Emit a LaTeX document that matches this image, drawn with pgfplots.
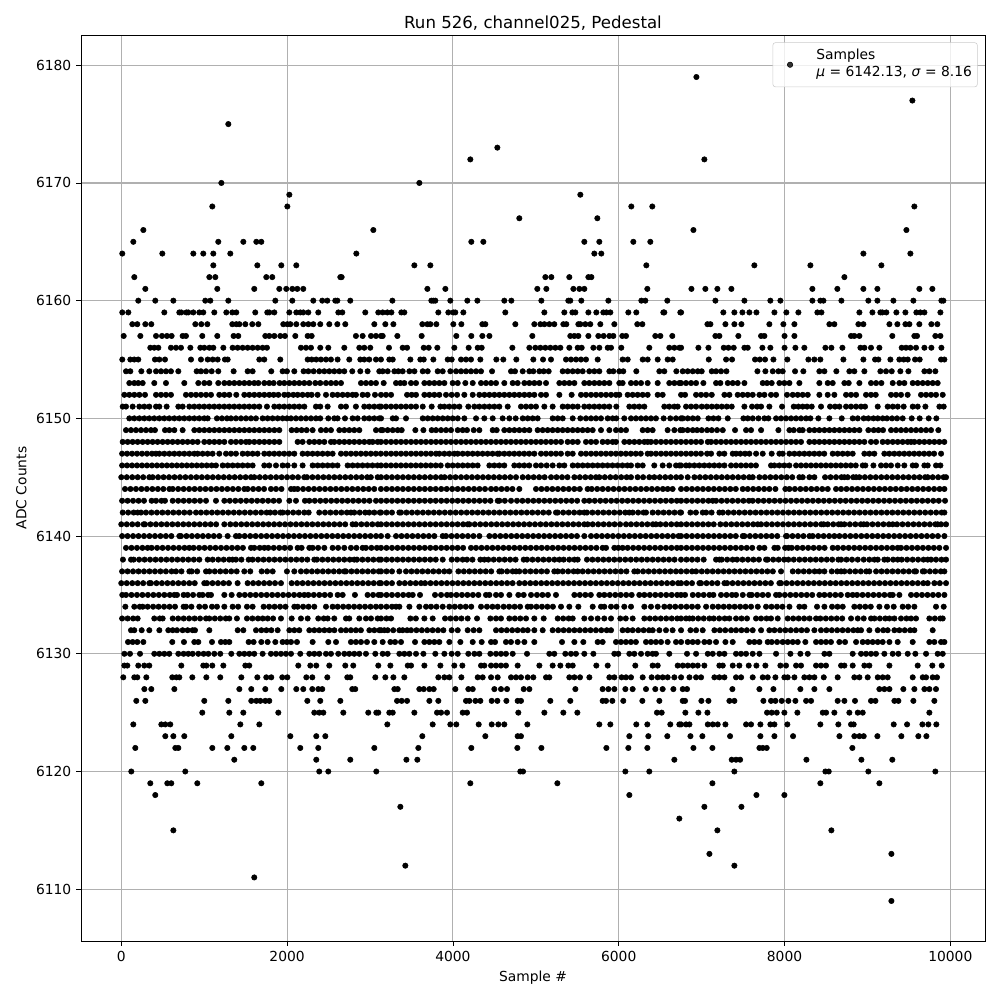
\documentclass[border=0pt]{standalone}
\usepackage{fontspec}
\setmainfont{DejaVu Sans}
\usepackage{pgfplots}
\pgfplotsset{compat=1.18}
\definecolor{gridc}{HTML}{B0B0B0}
\begin{document}
\begin{tikzpicture}
\path[use as bounding box] (-0.81in,-0.59in) rectangle (9.19in,9.41in);
\begin{axis}[
 at={(0,0)},anchor=south west,scale only axis,width=9.04in,height=9.06in,
 xmin=-486,xmax=10418,ymin=6105.6,ymax=6182.57,
 xtick={0,2000,4000,6000,8000,10000},ytick={6110,6120,6130,6140,6150,6160,6170,6180},
 /pgf/number format/assume math mode=true,
 /pgf/number format/1000 sep={},
 scaled ticks=false,
 tick align=outside,major tick length=3.5pt,tick style={black,line width=0.6pt},
 xtick pos=bottom,ytick pos=left,
 axis line style={line width=0.5pt},
 grid=major,grid style={gridc,line width=0.8pt},
 tick label style={font=\fontsize{10}{12}\selectfont},
 label style={font=\fontsize{10}{12}\selectfont},
 title style={font=\fontsize{12}{14}\selectfont,yshift=-6pt},
 title={Run 526, channel025, Pedestal},
 xlabel={Sample \#},ylabel={ADC Counts},
 legend style={at={(0.9919,0.9919)},anchor=north east,draw=black!20,rounded corners=2pt,fill=white,fill opacity=0.8,text opacity=1,font=\fontsize{10}{12}\selectfont,inner sep=2pt,nodes={text depth=}},
 legend cell align=left,
 legend image code/.code={\path[draw=none] (0,0) -- (0.38in,0); \draw[#1,mark=*] plot coordinates {(0.145in,0in)};},
]
\addplot[only marks,mark=*,black,mark size=1.95pt] table[row sep=\\,header=false,x index=0,y index=1]{
1291 6175\\1207 6170\\2027 6169\\1098 6168\\2003 6168\\266 6166\\3040 6166\\145 6165\\1170 6165\\1472 6165\\1629 6165\\1689 6165\\12 6164\\495 6164\\869 6164\\989 6164\\1110 6164\\1315 6164\\2835 6164\\1110 6163\\1641 6163\\1930 6163\\2111 6163\\157 6162\\1062 6162\\1134 6162\\1749 6162\\1821 6162\\2642 6162\\2658 6162\\
290 6161\\1158 6161\\1604 6161\\1906 6161\\1990 6161\\2063 6161\\2123 6161\\2195 6161\\205 6160\\410 6160\\628 6160\\1013 6160\\1074 6160\\1291 6160\\1858 6160\\2063 6160\\2316 6160\\2424 6160\\2485 6160\\2581 6160\\2606 6160\\2762 6160\\
12 6159\\85 6159\\519 6159\\700 6159\\724 6159\\785 6159\\808 6159\\869 6159\\941 6159\\989 6159\\1122 6159\\1267 6159\\1339 6159\\1387 6159\\1616 6159\\1761 6159\\1785 6159\\1846 6159\\2027 6159\\2111 6159\\2159 6159\\2195 6159\\2256 6159\\2376 6159\\2618 6159\\2666 6159\\2943 6159\\3100 6159\\
133 6158\\193 6158\\290 6158\\362 6158\\893 6158\\965 6158\\1038 6158\\1339 6158\\1387 6158\\1424 6158\\1496 6158\\1580 6158\\1653 6158\\1954 6158\\2003 6158\\2039 6158\\2111 6158\\2195 6158\\2256 6158\\2316 6158\\2400 6158\\2509 6158\\2606 6158\\2702 6158\\3052 6158\\
4210 6172\\4536 6173\\3595 6170\\5537 6169\\6152 6168\\6405 6168\\4801 6167\\5742 6167\\4222 6165\\4367 6165\\5585 6165\\5766 6165\\6176 6165\\6381 6165\\5706 6164\\5790 6164\\3535 6163\\3728 6163\\6333 6163\\5115 6162\\5187 6162\\5404 6162\\5634 6162\\5670 6162\\
3692 6161\\3909 6161\\5018 6161\\5127 6161\\5453 6161\\5525 6161\\5585 6161\\6345 6161\\3270 6160\\3740 6160\\3764 6160\\3788 6160\\3969 6160\\4174 6160\\4295 6160\\4620 6160\\4705 6160\\5067 6160\\5392 6160\\5416 6160\\5549 6160\\5875 6160\\6273 6160\\6321 6160\\6586 6160\\
3153 6159\\3209 6159\\3258 6159\\3378 6159\\3414 6159\\3824 6159\\3945 6159\\4005 6159\\4029 6159\\4126 6159\\4632 6159\\5103 6159\\5344 6159\\5441 6159\\5477 6159\\5634 6159\\5730 6159\\5814 6159\\5851 6159\\5899 6159\\6116 6159\\6212 6159\\6538 6159\\6550 6159\\6743 6159\\
3185 6158\\3282 6158\\3631 6158\\3692 6158\\3728 6158\\3800 6158\\4005 6158\\4102 6158\\4355 6158\\4391 6158\\4753 6158\\4982 6158\\5055 6158\\5103 6158\\5163 6158\\5223 6158\\5332 6158\\5368 6158\\5513 6158\\5537 6158\\5597 6158\\5657 6158\\5778 6158\\5947 6158\\6224 6158\\6285 6158\\
6937 6179\\9542 6177\\7033 6172\\9566 6168\\6901 6166\\9470 6166\\8951 6164\\9518 6164\\7636 6163\\8312 6163\\9168 6163\\8722 6162\\6877 6161\\7045 6161\\7190 6161\\7359 6161\\8336 6161\\8637 6161\\8951 6161\\9120 6161\\9626 6161\\9783 6161\\
7166 6160\\7516 6160\\7829 6160\\7950 6160\\8336 6160\\8432 6160\\8469 6160\\8686 6160\\9011 6160\\9120 6160\\9313 6160\\9554 6160\\9892 6160\\9916 6160\\6752 6159\\7262 6159\\7395 6159\\7492 6159\\7576 6159\\7661 6159\\7878 6159\\8022 6159\\8167 6159\\8396 6159\\8445 6159\\8903 6159\\9060 6159\\9156 6159\\9180 6159\\9228 6159\\9349 6159\\9458 6159\\9590 6159\\9638 6159\\9687 6159\\9880 6159\\
7070 6158\\7106 6158\\7287 6158\\7395 6158\\7480 6158\\7817 6158\\7986 6158\\8119 6158\\8541 6158\\8601 6158\\8891 6158\\8951 6158\\9265 6158\\9361 6158\\9458 6158\\9506 6158\\9626 6158\\9771 6158\\9843 6158\\
1604 6111\\628 6115\\410 6118\\350 6119\\555 6119\\603 6119\\917 6119\\1689 6119\\121 6120\\772 6120\\2388 6120\\2497 6120\\3076 6120\\1363 6121\\2352 6121\\2762 6121\\169 6122\\652 6122\\688 6122\\1098 6122\\1279 6122\\1484 6122\\1592 6122\\2159 6122\\2376 6122\\3052 6122\\531 6123\\628 6123\\760 6123\\1327 6123\\2039 6123\\2352 6123\\2461 6123\\145 6124\\483 6124\\531 6124\\591 6124\\1436 6124\\1665 6124\\
977 6125\\1303 6125\\1472 6125\\1894 6125\\2328 6125\\2388 6125\\2437 6125\\2678 6125\\2979 6125\\3076 6125\\3100 6125\\181 6126\\290 6126\\1001 6126\\1291 6126\\1568 6126\\1629 6126\\1677 6126\\1737 6126\\1785 6126\\2244 6126\\2400 6126\\2642 6126\\278 6127\\362 6127\\640 6127\\1424 6127\\1568 6127\\1737 6127\\1930 6127\\2111 6127\\2195 6127\\2304 6127\\2376 6127\\2424 6127\\2786 6127\\2822 6127\\
24 6128\\157 6128\\193 6128\\302 6128\\615 6128\\664 6128\\700 6128\\857 6128\\1026 6128\\1194 6128\\1448 6128\\1641 6128\\1749 6128\\1809 6128\\1942 6128\\2003 6128\\2232 6128\\2304 6128\\2485 6128\\2726 6128\\2762 6128\\3064 6128\\
37 6129\\73 6129\\205 6129\\278 6129\\338 6129\\724 6129\\989 6129\\1026 6129\\1098 6129\\1231 6129\\1496 6129\\1544 6129\\2135 6129\\2280 6129\\2352 6129\\2509 6129\\2702 6129\\2798 6129\\3100 6129\\
37 6130\\105 6130\\226 6130\\398 6130\\459 6130\\519 6130\\579 6130\\688 6130\\752 6130\\808 6130\\861 6130\\929 6130\\993 6130\\1050 6130\\1122 6130\\1194 6130\\1327 6130\\1424 6130\\1484 6130\\1544 6130\\1604 6130\\1705 6130\\1805 6130\\1866 6130\\1926 6130\\1986 6130\\2047 6130\\2159 6130\\2268 6130\\2328 6130\\2388 6130\\2469 6130\\2529 6130\\2617 6130\\2690 6130\\2750 6130\\2810 6130\\2871 6130\\2951 6130\\3064 6130\\
81 6131\\137 6131\\193 6131\\266 6131\\615 6131\\756 6131\\881 6131\\929 6131\\1094 6131\\1202 6131\\1255 6131\\1303 6131\\1536 6131\\1596 6131\\1689 6131\\1765 6131\\1858 6131\\1946 6131\\1998 6131\\2047 6131\\2119 6131\\2308 6131\\2497 6131\\2590 6131\\2770 6131\\2830 6131\\2891 6131\\2963 6131\\3052 6131\\
117 6132\\157 6132\\246 6132\\338 6132\\459 6132\\567 6132\\620 6132\\672 6132\\740 6132\\800 6132\\860 6132\\889 6132\\1062 6132\\1404 6132\\1472 6132\\1625 6132\\1690 6132\\1750 6132\\1810 6132\\1886 6132\\2027 6132\\2087 6132\\2147 6132\\2268 6132\\2328 6132\\2388 6132\\2450 6132\\2510 6132\\2570 6132\\2650 6132\\2710 6132\\2770 6132\\2830 6132\\2890 6132\\2992 6132\\3052 6132\\3112 6132\\
3133 6132\\3173 6132\\3213 6132\\3280 6132\\3354 6132\\3394 6132\\3447 6132\\3495 6132\\3560 6132\\3625 6132\\3690 6132\\3755 6132\\3820 6132\\3885 6132\\3985 6132\\4058 6132\\4178 6132\\4250 6132\\4319 6132\\4520 6132\\4585 6132\\4650 6132\\4715 6132\\4780 6132\\4845 6132\\4902 6132\\4982 6132\\5083 6132\\5203 6132\\5270 6132\\5335 6132\\5400 6132\\5465 6132\\5530 6132\\5595 6132\\5660 6132\\5725 6132\\5790 6132\\5855 6132\\5907 6132\\6047 6132\\6108 6132\\6168 6132\\6235 6132\\6300 6132\\6365 6132\\6410 6132\\6490 6132\\6570 6132\\6650 6132\\
6752 6132\\6865 6132\\6933 6132\\7013 6132\\7154 6132\\7220 6132\\7285 6132\\7355 6132\\7415 6132\\7480 6132\\7545 6132\\7616 6132\\7717 6132\\7817 6132\\7878 6132\\7945 6132\\8010 6132\\8075 6132\\8140 6132\\8205 6132\\8270 6132\\8360 6132\\8440 6132\\8505 6132\\8570 6132\\8635 6132\\8700 6132\\8765 6132\\8830 6132\\8883 6132\\8923 6132\\9023 6132\\9124 6132\\9190 6132\\9244 6132\\9325 6132\\9385 6132\\9450 6132\\9515 6132\\9566 6132\\9787 6132\\
3153 6131\\3246 6131\\3302 6131\\3374 6131\\3543 6131\\3656 6131\\3716 6131\\3776 6131\\3836 6131\\3957 6131\\4090 6131\\4239 6131\\4347 6131\\4460 6131\\4508 6131\\4640 6131\\4700 6131\\4781 6131\\4862 6131\\4982 6131\\5316 6131\\5465 6131\\5573 6131\\5746 6131\\5806 6131\\5967 6131\\6027 6131\\6087 6131\\6147 6131\\6207 6131\\6329 6131\\6389 6131\\6449 6131\\6510 6131\\6590 6131\\6691 6131\\
6752 6131\\6832 6131\\6892 6131\\6953 6131\\7033 6131\\7094 6131\\7174 6131\\7287 6131\\7375 6131\\7576 6131\\7636 6131\\7697 6131\\7797 6131\\7845 6131\\7910 6131\\7978 6131\\8038 6131\\8099 6131\\8159 6131\\8251 6131\\8380 6131\\8440 6131\\8500 6131\\8560 6131\\8661 6131\\8730 6131\\8863 6131\\8943 6131\\9003 6131\\9063 6131\\9124 6131\\9184 6131\\9265 6131\\9365 6131\\9546 6131\\9747 6131\\9807 6131\\9888 6131\\9928 6131\\
3153 6130\\3213 6130\\3354 6130\\3414 6130\\3475 6130\\3555 6130\\3644 6130\\3788 6130\\3897 6130\\3985 6130\\4058 6130\\4186 6130\\4259 6130\\4319 6130\\4452 6130\\4520 6130\\4580 6130\\4640 6130\\4721 6130\\4894 6130\\5163 6130\\5223 6130\\5356 6130\\5424 6130\\5484 6130\\5585 6130\\5694 6130\\5947 6130\\5995 6130\\6128 6130\\6188 6130\\6269 6130\\6349 6130\\6409 6130\\6449 6130\\6610 6130\\
6824 6130\\6933 6130\\7074 6130\\7134 6130\\7214 6130\\7275 6130\\7415 6130\\7475 6130\\7536 6130\\7616 6130\\7697 6130\\7898 6130\\8071 6130\\8191 6130\\8280 6130\\8481 6130\\8541 6130\\8822 6130\\8923 6130\\8983 6130\\9043 6130\\9103 6130\\9204 6130\\9305 6130\\9373 6130\\9486 6130\\9578 6130\\9707 6130\\9847 6130\\9908 6130\\
3246 6129\\3455 6129\\3495 6129\\3656 6129\\3849 6129\\4017 6129\\4114 6129\\4339 6129\\4379 6129\\4460 6129\\4520 6129\\4580 6129\\4640 6129\\4781 6129\\5043 6129\\5203 6129\\5296 6129\\5392 6129\\5445 6129\\5730 6129\\5867 6129\\6200 6129\\6409 6129\\6470 6129\\6711 6129\\
6772 6129\\6832 6129\\6893 6129\\6953 6129\\7033 6129\\7214 6129\\7255 6129\\7375 6129\\7455 6129\\7568 6129\\7661 6129\\7769 6129\\7950 6129\\8018 6129\\8139 6129\\8199 6129\\8380 6129\\8440 6129\\8500 6129\\8682 6129\\8722 6129\\8822 6129\\8963 6129\\9023 6129\\9265 6129\\9606 6129\\9783 6129\\9896 6129\\
3185 6128\\3282 6128\\3414 6128\\3824 6128\\3897 6128\\3957 6128\\4102 6128\\4299 6128\\4359 6128\\4460 6128\\4540 6128\\4701 6128\\4761 6128\\4821 6128\\4902 6128\\4970 6128\\5123 6128\\5163 6128\\5404 6128\\5465 6128\\5533 6128\\5646 6128\\5887 6128\\5947 6128\\6035 6128\\6088 6128\\6148 6128\\6289 6128\\6397 6128\\6470 6128\\6530 6128\\6590 6128\\6671 6128\\
6752 6128\\6853 6128\\6933 6128\\6993 6128\\7154 6128\\7214 6128\\7275 6128\\7415 6128\\7476 6128\\7616 6128\\7737 6128\\7797 6128\\7890 6128\\7998 6128\\8038 6128\\8119 6128\\8239 6128\\8300 6128\\8360 6128\\8473 6128\\8641 6128\\8842 6128\\8903 6128\\9003 6128\\9124 6128\\9184 6128\\9244 6128\\9546 6128\\9667 6128\\9707 6128\\9787 6128\\9839 6128\\
3294 6127\\3334 6127\\3595 6127\\3648 6127\\3716 6127\\3768 6127\\4029 6127\\4186 6127\\4239 6127\\4500 6127\\4580 6127\\4653 6127\\4854 6127\\4922 6127\\5477 6127\\5806 6127\\5875 6127\\5947 6127\\6080 6127\\6168 6127\\6329 6127\\6441 6127\\6530 6127\\6659 6127\\6772 6127\\6824 6127\\7371 6127\\7697 6127\\7866 6127\\8191 6127\\8360 6127\\8541 6127\\9144 6127\\9204 6127\\9265 6127\\9433 6127\\9566 6127\\9687 6127\\9747 6127\\9827 6127\\
3326 6126\\3382 6126\\3447 6126\\3716 6126\\3824 6126\\4158 6126\\4198 6126\\4271 6126\\4331 6126\\4468 6126\\4536 6126\\4645 6126\\4781 6126\\4821 6126\\5175 6126\\5416 6126\\5806 6126\\5847 6126\\5923 6126\\6055 6126\\6285 6126\\6490 6126\\6772 6126\\6800 6126\\6997 6126\\7082 6126\\7335 6126\\7395 6126\\7745 6126\\7837 6126\\7890 6126\\7966 6126\\8046 6126\\8131 6126\\8260 6126\\8320 6126\\8641 6126\\8722 6126\\8850 6126\\9043 6126\\9096 6126\\9325 6126\\9373 6126\\9554 6126\\9807 6126\\
3233 6125\\3274 6125\\3535 6125\\3808 6125\\3857 6125\\3929 6125\\4118 6125\\4170 6125\\4789 6125\\5103 6125\\5332 6125\\5501 6125\\6461 6125\\6518 6125\\6804 6125\\6961 6125\\7070 6125\\7789 6125\\7845 6125\\7906 6125\\7998 6125\\8155 6125\\8461 6125\\8501 6125\\8601 6125\\8782 6125\\8883 6125\\8943 6125\\9747 6125\\
3209 6124\\3756 6124\\3969 6124\\4041 6124\\4311 6124\\4468 6124\\4548 6124\\4620 6124\\4898 6124\\5766 6124\\5899 6124\\6212 6124\\6345 6124\\6622 6124\\6731 6124\\6752 6124\\6812 6124\\6853 6124\\7074 6124\\7134 6124\\7194 6124\\7287 6124\\7536 6124\\7596 6124\\7709 6124\\7829 6124\\7878 6124\\8034 6124\\8432 6124\\8649 6124\\8802 6124\\8834 6124\\9317 6124\\9478 6124\\9663 6124\\9735 6124\\9831 6124\\
3631 6123\\4391 6123\\4781 6123\\4821 6123\\6128 6123\\6357 6123\\6586 6123\\6865 6123\\7009 6123\\7343 6123\\7709 6123\\7878 6123\\8103 6123\\8662 6123\\8842 6123\\8903 6123\\8955 6123\\9120 6123\\9409 6123\\9614 6123\\9711 6123\\
3583 6122\\4222 6122\\4777 6122\\5067 6122\\5851 6122\\6116 6122\\6345 6122\\6901 6122\\7130 6122\\7697 6122\\7737 6122\\7785 6122\\8818 6122\\3439 6121\\3571 6121\\6671 6121\\7363 6121\\7415 6121\\7464 6121\\8264 6121\\8927 6121\\9300 6121\\
4813 6120\\4846 6120\\6080 6120\\6369 6120\\7395 6120\\8493 6120\\8533 6120\\9011 6120\\9819 6120\\4210 6119\\5260 6119\\7130 6119\\8432 6119\\9144 6119\\6128 6118\\7661 6118\\7998 6118\\3366 6117\\7033 6117\\7480 6117\\6731 6116\\7190 6115\\8565 6115\\7094 6113\\9289 6113\\3426 6112\\7395 6112\\9289 6109\\
29 6157\\230 6157\\419 6157\\491 6157\\551 6157\\607 6157\\740 6157\\780 6157\\977 6157\\1158 6157\\1355 6157\\1411 6157\\1737 6157\\1785 6157\\1846 6157\\1918 6157\\1974 6157\\2099 6157\\2248 6157\\2296 6157\\2830 6157\\2911 6157\\3012 6157\\3072 6157\\3132 6157\\3153 6157\\3330 6157\\3623 6157\\4041 6157\\4222 6157\\4355 6157\\4440 6157\\4958 6157\\5416 6157\\5465 6157\\5513 6157\\5634 6157\\5754 6157\\5818 6157\\5887 6157\\5935 6157\\6043 6157\\6088 6157\\6441 6157\\6502 6157\\6646 6157\\7166 6157\\7214 6157\\7443 6157\\7717 6157\\7757 6157\\8000 6157\\8119 6157\\8802 6157\\8842 6157\\8903 6157\\9300 6157\\9566 6157\\9598 6157\\9819 6157\\9880 6157\\
350 6156\\398 6156\\447 6156\\599 6156\\660 6156\\720 6156\\833 6156\\953 6156\\1001 6156\\1062 6156\\1110 6156\\1231 6156\\1343 6156\\1403 6156\\1464 6156\\1524 6156\\1584 6156\\1645 6156\\1705 6156\\1757 6156\\2167 6156\\2228 6156\\2288 6156\\2400 6156\\2497 6156\\2690 6156\\2871 6156\\2931 6156\\3003 6156\\3229 6156\\3394 6156\\3447 6156\\3648 6156\\3708 6156\\3812 6156\\4017 6156\\4190 6156\\4299 6156\\4347 6156\\4717 6156\\4922 6156\\4994 6156\\5055 6156\\5115 6156\\5175 6156\\5236 6156\\5296 6156\\5404 6156\\5505 6156\\5553 6156\\5694 6156\\5766 6156\\5867 6156\\5907 6156\\6031 6156\\6369 6156\\6610 6156\\6671 6156\\6731 6156\\6752 6156\\6961 6156\\7082 6156\\7267 6156\\7323 6156\\7387 6156\\7516 6156\\7556 6156\\7733 6156\\7829 6156\\8000 6156\\8131 6156\\8239 6156\\8493 6156\\8565 6156\\8698 6156\\8915 6156\\8963 6156\\9043 6156\\9144 6156\\9413 6156\\9465 6156\\9518 6156\\9586 6156\\9687 6156\\9771 6156\\9892 6156\\
12 6155\\109 6155\\157 6155\\205 6155\\406 6155\\459 6155\\527 6155\\841 6155\\961 6155\\1042 6155\\1102 6155\\1162 6155\\1250 6155\\1283 6155\\1665 6155\\1725 6155\\1918 6155\\2248 6155\\2296 6155\\2352 6155\\2408 6155\\2469 6155\\2529 6155\\2609 6155\\2750 6155\\2883 6155\\2931 6155\\2991 6155\\3072 6155\\3132 6155\\3233 6155\\3274 6155\\3487 6155\\3607 6155\\3648 6155\\3764 6155\\3937 6155\\3985 6155\\4098 6155\\4158 6155\\4218 6155\\4331 6155\\4524 6155\\4608 6155\\4765 6155\\4970 6155\\5087 6155\\5183 6155\\5364 6155\\5424 6155\\5485 6155\\5545 6155\\5605 6155\\5746 6155\\6047 6155\\6108 6155\\6289 6155\\6349 6155\\6470 6155\\6590 6155\\6651 6155\\7086 6155\\7295 6155\\7367 6155\\7644 6155\\7701 6155\\7765 6155\\7866 6155\\8034 6155\\8288 6155\\8360 6155\\8432 6155\\8710 6155\\8951 6155\\9092 6155\\9132 6155\\9277 6155\\9385 6155\\9437 6155\\9486 6155\\9574 6155\\9630 6155\\9888 6155\\9928 6155\\
57 6154\\109 6154\\242 6154\\338 6154\\419 6154\\479 6154\\539 6154\\599 6154\\688 6154\\909 6154\\961 6154\\1022 6154\\1090 6154\\1170 6154\\1355 6154\\1524 6154\\1584 6154\\1809 6154\\1946 6154\\1998 6154\\2087 6154\\2199 6154\\2256 6154\\2320 6154\\2388 6154\\2449 6154\\2509 6154\\2569 6154\\2630 6154\\2690 6154\\2786 6154\\2883 6154\\2971 6154\\3112 6154\\3153 6154\\3213 6154\\3294 6154\\3342 6154\\3394 6154\\3475 6154\\3536 6154\\3636 6154\\3696 6154\\3816 6154\\3877 6154\\3969 6154\\4038 6154\\4098 6154\\4158 6154\\4218 6154\\4279 6154\\4339 6154\\4472 6154\\4701 6154\\4749 6154\\4842 6154\\4922 6154\\4970 6154\\5043 6154\\5095 6154\\5155 6154\\5324 6154\\5384 6154\\5445 6154\\5505 6154\\5565 6154\\5645 6154\\5706 6154\\5766 6154\\5887 6154\\5935 6154\\6007 6154\\6055 6154\\6212 6154\\6490 6154\\6550 6154\\6695 6154\\6772 6154\\6832 6154\\6893 6154\\6953 6154\\7001 6154\\7122 6154\\7174 6154\\7234 6154\\7299 6154\\7673 6154\\7769 6154\\7858 6154\\7926 6154\\7978 6154\\8127 6154\\8227 6154\\8420 6154\\8481 6154\\8625 6154\\8782 6154\\8842 6154\\8963 6154\\9156 6154\\9224 6154\\9293 6154\\9397 6154\\9494 6154\\9687 6154\\9747 6154\\9819 6154\\
97 6153\\157 6153\\205 6153\\258 6153\\398 6153\\539 6153\\760 6153\\929 6153\\1001 6153\\1062 6153\\1170 6153\\1243 6153\\1303 6153\\1363 6153\\1424 6153\\1484 6153\\1544 6153\\1604 6153\\1653 6153\\1725 6153\\1785 6153\\1838 6153\\1910 6153\\1966 6153\\2027 6153\\2087 6153\\2147 6153\\2207 6153\\2268 6153\\2340 6153\\2400 6153\\2469 6153\\2529 6153\\2589 6153\\2650 6153\\2891 6153\\2951 6153\\3012 6153\\3072 6153\\3165 6153\\3314 6153\\3366 6153\\3414 6153\\3495 6153\\3555 6153\\3656 6153\\3716 6153\\3776 6153\\3836 6153\\3897 6153\\3997 6153\\4058 6153\\4150 6153\\4239 6153\\4339 6153\\4399 6153\\4460 6153\\4520 6153\\4620 6153\\4721 6153\\4781 6153\\4862 6153\\4922 6153\\4982 6153\\5043 6153\\5123 6153\\5284 6153\\5344 6153\\5404 6153\\5465 6153\\5585 6153\\5645 6153\\5706 6153\\5766 6153\\5826 6153\\5887 6153\\6007 6153\\6047 6153\\6148 6153\\6208 6153\\6269 6153\\6349 6153\\6470 6153\\6610 6153\\6671 6153\\6731 6153\\6752 6153\\6812 6153\\6873 6153\\6933 6153\\7021 6153\\7174 6153\\7226 6153\\7315 6153\\7375 6153\\7435 6153\\7516 6153\\7737 6153\\7789 6153\\7845 6153\\7938 6153\\7998 6153\\8059 6153\\8179 6153\\8420 6153\\8521 6153\\8581 6153\\8722 6153\\8774 6153\\8903 6153\\9043 6153\\9104 6153\\9168 6153\\9305 6153\\9385 6153\\9445 6153\\9546 6153\\9606 6153\\9667 6153\\9727 6153\\9787 6153\\9847 6153\\
37 6152\\97 6152\\157 6152\\218 6152\\286 6152\\419 6152\\479 6152\\539 6152\\599 6152\\780 6152\\841 6152\\901 6152\\961 6152\\1022 6152\\1082 6152\\1182 6152\\1243 6152\\1303 6152\\1387 6152\\1484 6152\\1544 6152\\1604 6152\\1665 6152\\1725 6152\\1785 6152\\1838 6152\\1894 6152\\1966 6152\\2015 6152\\2075 6152\\2127 6152\\2187 6152\\2248 6152\\2296 6152\\2368 6152\\2469 6152\\2549 6152\\2609 6152\\2670 6152\\2730 6152\\2790 6152\\2830 6152\\2911 6152\\2971 6152\\3060 6152\\3133 6152\\3193 6152\\3254 6152\\3447 6152\\3503 6152\\3555 6152\\3656 6152\\3716 6152\\3776 6152\\3836 6152\\3917 6152\\3985 6152\\4050 6152\\4138 6152\\4239 6152\\4319 6152\\4380 6152\\4440 6152\\4500 6152\\4560 6152\\4620 6152\\4681 6152\\4741 6152\\4801 6152\\4862 6152\\4922 6152\\4982 6152\\5063 6152\\5123 6152\\5284 6152\\5432 6152\\5545 6152\\5605 6152\\5666 6152\\5726 6152\\5786 6152\\5847 6152\\5907 6152\\5967 6152\\6007 6152\\6108 6152\\6168 6152\\6228 6152\\6289 6152\\6349 6152\\6470 6152\\6530 6152\\6752 6152\\6800 6152\\6933 6152\\6993 6152\\7054 6152\\7122 6152\\7275 6152\\7335 6152\\7435 6152\\7496 6152\\7556 6152\\7616 6152\\7697 6152\\7757 6152\\7837 6152\\7898 6152\\8030 6152\\8099 6152\\8159 6152\\8219 6152\\8280 6152\\8420 6152\\8521 6152\\8601 6152\\8742 6152\\8802 6152\\8863 6152\\8983 6152\\9043 6152\\9100 6152\\9285 6152\\9345 6152\\9405 6152\\9485 6152\\9646 6152\\9707 6152\\9767 6152\\9827 6152\\9908 6152\\
17 6151\\57 6151\\137 6151\\218 6151\\278 6151\\338 6151\\419 6151\\459 6151\\547 6151\\688 6151\\740 6151\\821 6151\\881 6151\\941 6151\\1001 6151\\1062 6151\\1122 6151\\1182 6151\\1243 6151\\1303 6151\\1363 6151\\1424 6151\\1484 6151\\1544 6151\\1604 6151\\1665 6151\\1757 6151\\1846 6151\\1906 6151\\1966 6151\\2027 6151\\2087 6151\\2147 6151\\2208 6151\\2348 6151\\2400 6151\\2489 6151\\2650 6151\\2710 6151\\2830 6151\\2931 6151\\2991 6151\\3052 6151\\3112 6151\\3133 6151\\3193 6151\\3254 6151\\3314 6151\\3374 6151\\3434 6151\\3495 6151\\3555 6151\\3636 6151\\3744 6151\\3849 6151\\3897 6151\\3957 6151\\4017 6151\\4078 6151\\4186 6151\\4259 6151\\4319 6151\\4380 6151\\4440 6151\\4500 6151\\4560 6151\\4661 6151\\4821 6151\\4882 6151\\4942 6151\\5002 6151\\5103 6151\\5203 6151\\5324 6151\\5384 6151\\5445 6151\\5505 6151\\5585 6151\\5645 6151\\5706 6151\\5766 6151\\5826 6151\\5887 6151\\5971 6151\\6128 6151\\6188 6151\\6248 6151\\6309 6151\\6550 6151\\6610 6151\\6671 6151\\6711 6151\\6812 6151\\6873 6151\\6933 6151\\7001 6151\\7062 6151\\7122 6151\\7182 6151\\7242 6151\\7303 6151\\7363 6151\\7516 6151\\7608 6151\\7669 6151\\7717 6151\\7817 6151\\7970 6151\\8111 6151\\8167 6151\\8219 6151\\8272 6151\\8328 6151\\8440 6151\\8549 6151\\8609 6151\\8662 6151\\8742 6151\\8802 6151\\8863 6151\\8923 6151\\8971 6151\\9124 6151\\9244 6151\\9305 6151\\9365 6151\\9437 6151\\9546 6151\\9606 6151\\9699 6151\\9868 6151\\9920 6151\\
97 6150\\157 6150\\218 6150\\278 6150\\338 6150\\398 6150\\459 6150\\519 6150\\579 6150\\640 6150\\700 6150\\760 6150\\821 6150\\881 6150\\941 6150\\1001 6150\\1042 6150\\1154 6150\\1214 6150\\1275 6150\\1323 6150\\1383 6150\\1444 6150\\1504 6150\\1564 6150\\1624 6150\\1705 6150\\1765 6150\\1825 6150\\1886 6150\\1946 6150\\1998 6150\\2047 6150\\2107 6150\\2167 6150\\2228 6150\\2288 6150\\2348 6150\\2400 6150\\2497 6150\\2569 6150\\2609 6150\\2698 6150\\2790 6150\\2851 6150\\2931 6150\\2991 6150\\3052 6150\\3112 6150\\3133 6150\\3274 6150\\3314 6150\\3434 6150\\3636 6150\\3696 6150\\3756 6150\\3816 6150\\3877 6150\\3937 6150\\3997 6150\\4058 6150\\4138 6150\\4279 6150\\4379 6150\\4480 6150\\4600 6150\\4681 6150\\4757 6150\\4842 6150\\4902 6150\\4962 6150\\5022 6150\\5203 6150\\5264 6150\\5324 6150\\5445 6150\\5537 6150\\5605 6150\\5666 6150\\5726 6150\\5786 6150\\5867 6150\\5927 6150\\5971 6150\\6067 6150\\6148 6150\\6208 6150\\6269 6150\\6329 6150\\6389 6150\\6449 6150\\6542 6150\\6622 6150\\6691 6150\\6751 6150\\6772 6150\\6832 6150\\6893 6150\\6953 6150\\7082 6150\\7142 6150\\7202 6150\\7315 6150\\7504 6150\\7556 6150\\7616 6150\\7685 6150\\7757 6150\\7805 6150\\7898 6150\\7958 6150\\8018 6150\\8079 6150\\8139 6150\\8199 6150\\8260 6150\\8312 6150\\8408 6150\\8541 6150\\8690 6150\\8822 6150\\8883 6150\\8955 6150\\9011 6150\\9072 6150\\9124 6150\\9184 6150\\9236 6150\\9297 6150\\9357 6150\\9425 6150\\9534 6150\\9630 6150\\9739 6150\\9831 6150\\
57 6149\\117 6149\\177 6149\\238 6149\\298 6149\\358 6149\\406 6149\\527 6149\\579 6149\\640 6149\\740 6149\\881 6149\\941 6149\\1001 6149\\1062 6149\\1122 6149\\1182 6149\\1243 6149\\1303 6149\\1363 6149\\1424 6149\\1484 6149\\1544 6149\\1604 6149\\1665 6149\\1725 6149\\1785 6149\\1846 6149\\1906 6149\\2055 6149\\2115 6149\\2175 6149\\2236 6149\\2308 6149\\2408 6149\\2469 6149\\2529 6149\\2630 6149\\2690 6149\\2750 6149\\2810 6149\\2871 6149\\3072 6149\\3132 6149\\3153 6149\\3213 6149\\3274 6149\\3334 6149\\3382 6149\\3547 6149\\3644 6149\\3744 6149\\3796 6149\\3857 6149\\3917 6149\\3977 6149\\4058 6149\\4118 6149\\4170 6149\\4251 6149\\4319 6149\\4480 6149\\4528 6149\\4620 6149\\4681 6149\\4741 6149\\4801 6149\\4862 6149\\4922 6149\\5022 6149\\5083 6149\\5143 6149\\5203 6149\\5264 6149\\5324 6149\\5384 6149\\5445 6149\\5505 6149\\5565 6149\\5625 6149\\5686 6149\\5786 6149\\5887 6149\\5967 6149\\6027 6149\\6088 6149\\6289 6149\\6349 6149\\6409 6149\\6590 6149\\6671 6149\\6743 6149\\6772 6149\\6832 6149\\6893 6149\\6945 6149\\7001 6149\\7066 6149\\7122 6149\\7186 6149\\7255 6149\\7403 6149\\7536 6149\\7596 6149\\7717 6149\\7926 6149\\8059 6149\\8111 6149\\8179 6149\\8219 6149\\8300 6149\\8360 6149\\8420 6149\\8481 6149\\8541 6149\\8601 6149\\8662 6149\\8722 6149\\8782 6149\\8842 6149\\8903 6149\\9011 6149\\9076 6149\\9132 6149\\9188 6149\\9285 6149\\9345 6149\\9405 6149\\9465 6149\\9526 6149\\9586 6149\\9646 6149\\9707 6149\\9767 6149\\9855 6149\\
17 6148\\77 6148\\137 6148\\197 6148\\258 6148\\318 6148\\378 6148\\438 6148\\499 6148\\559 6148\\619 6148\\680 6148\\740 6148\\800 6148\\861 6148\\921 6148\\1001 6148\\1062 6148\\1122 6148\\1182 6148\\1243 6148\\1323 6148\\1383 6148\\1444 6148\\1504 6148\\1544 6148\\1604 6148\\1665 6148\\1725 6148\\1785 6148\\1846 6148\\1906 6148\\2127 6148\\2187 6148\\2268 6148\\2328 6148\\2388 6148\\2449 6148\\2529 6148\\2569 6148\\2630 6148\\2690 6148\\2750 6148\\2810 6148\\2871 6148\\2931 6148\\2991 6148\\3032 6148\\3092 6148\\3132 6148\\3193 6148\\3254 6148\\3314 6148\\3374 6148\\3434 6148\\3495 6148\\3555 6148\\3615 6148\\3675 6148\\3736 6148\\3796 6148\\3856 6148\\3917 6148\\3977 6148\\4037 6148\\4098 6148\\4158 6148\\4218 6148\\4279 6148\\4339 6148\\4399 6148\\4459 6148\\4520 6148\\4580 6148\\4640 6148\\4700 6148\\4761 6148\\4821 6148\\4881 6148\\4942 6148\\5002 6148\\5062 6148\\5122 6148\\5183 6148\\5243 6148\\5304 6148\\5384 6148\\5445 6148\\5505 6148\\5605 6148\\5666 6148\\5726 6148\\5806 6148\\5866 6148\\5927 6148\\5967 6148\\6068 6148\\6128 6148\\6188 6148\\6248 6148\\6309 6148\\6349 6148\\6389 6148\\6449 6148\\6510 6148\\6570 6148\\6630 6148\\6691 6148\\6751 6148\\6812 6148\\6873 6148\\6933 6148\\6993 6148\\7074 6148\\7114 6148\\7174 6148\\7234 6148\\7295 6148\\7355 6148\\7415 6148\\7476 6148\\7536 6148\\7596 6148\\7657 6148\\7717 6148\\7777 6148\\7838 6148\\7898 6148\\7958 6148\\8019 6148\\8079 6148\\8139 6148\\8199 6148\\8300 6148\\8360 6148\\8420 6148\\8481 6148\\8541 6148\\8601 6148\\8662 6148\\8722 6148\\8782 6148\\8842 6148\\8903 6148\\8963 6148\\9043 6148\\9104 6148\\9184 6148\\9244 6148\\9305 6148\\9365 6148\\9425 6148\\9485 6148\\9526 6148\\9566 6148\\9626 6148\\9686 6148\\9747 6148\\9807 6148\\9867 6148\\9927 6148\\
10 6147\\70 6147\\130 6147\\190 6147\\250 6147\\310 6147\\370 6147\\418 6147\\459 6147\\519 6147\\580 6147\\640 6147\\700 6147\\760 6147\\821 6147\\881 6147\\921 6147\\981 6147\\1041 6147\\1101 6147\\1182 6147\\1263 6147\\1323 6147\\1383 6147\\1464 6147\\1524 6147\\1584 6147\\1644 6147\\1725 6147\\1785 6147\\1845 6147\\1905 6147\\1965 6147\\2025 6147\\2087 6147\\2187 6147\\2247 6147\\2307 6147\\2367 6147\\2428 6147\\2489 6147\\2549 6147\\2650 6147\\2710 6147\\2770 6147\\2830 6147\\2890 6147\\2950 6147\\3010 6147\\3070 6147\\3130 6147\\3193 6147\\3254 6147\\3314 6147\\3374 6147\\3434 6147\\3495 6147\\3555 6147\\3615 6147\\3675 6147\\3735 6147\\3796 6147\\3836 6147\\3897 6147\\3957 6147\\4017 6147\\4058 6147\\4118 6147\\4178 6147\\4238 6147\\4298 6147\\4358 6147\\4418 6147\\4478 6147\\4538 6147\\4560 6147\\4620 6147\\4680 6147\\4740 6147\\4800 6147\\4860 6147\\4920 6147\\4982 6147\\5063 6147\\5123 6147\\5183 6147\\5243 6147\\5303 6147\\5384 6147\\5445 6147\\5545 6147\\5605 6147\\5666 6147\\5726 6147\\5786 6147\\5846 6147\\5906 6147\\5966 6147\\6026 6147\\6086 6147\\6146 6147\\6206 6147\\6266 6147\\6349 6147\\6389 6147\\6449 6147\\6510 6147\\6570 6147\\6630 6147\\6691 6147\\6751 6147\\6812 6147\\6872 6147\\6932 6147\\6992 6147\\7066 6147\\7114 6147\\7214 6147\\7274 6147\\7375 6147\\7415 6147\\7467 6147\\7524 6147\\7576 6147\\7657 6147\\7737 6147\\7845 6147\\7938 6147\\7978 6147\\8059 6147\\8119 6147\\8179 6147\\8239 6147\\8299 6147\\8359 6147\\8419 6147\\8479 6147\\8581 6147\\8641 6147\\8701 6147\\8761 6147\\8822 6147\\8963 6147\\9023 6147\\9083 6147\\9204 6147\\9264 6147\\9324 6147\\9384 6147\\9444 6147\\9504 6147\\9564 6147\\9624 6147\\9684 6147\\9744 6147\\9804 6147\\9888 6147\\
10 6146\\70 6146\\130 6146\\190 6146\\250 6146\\310 6146\\370 6146\\430 6146\\490 6146\\550 6146\\610 6146\\670 6146\\730 6146\\790 6146\\850 6146\\910 6146\\970 6146\\1030 6146\\1090 6146\\1142 6146\\1223 6146\\1283 6146\\1343 6146\\1403 6146\\1463 6146\\1524 6146\\1584 6146\\1725 6146\\1785 6146\\1866 6146\\1946 6146\\2007 6146\\2087 6146\\2187 6146\\2308 6146\\2368 6146\\2428 6146\\2488 6146\\2548 6146\\2608 6146\\2730 6146\\2790 6146\\2850 6146\\2910 6146\\2970 6146\\3030 6146\\3090 6146\\3133 6146\\3193 6146\\3253 6146\\3313 6146\\3373 6146\\3433 6146\\3493 6146\\3553 6146\\3613 6146\\3673 6146\\3733 6146\\3793 6146\\3853 6146\\3937 6146\\3997 6146\\4058 6146\\4118 6146\\4178 6146\\4238 6146\\4298 6146\\4440 6146\\4500 6146\\4560 6146\\4620 6146\\4741 6146\\4801 6146\\4861 6146\\4921 6146\\5002 6146\\5063 6146\\5131 6146\\5203 6146\\5284 6146\\5344 6146\\5445 6146\\5505 6146\\5565 6146\\5625 6146\\5685 6146\\5745 6146\\5805 6146\\5865 6146\\5925 6146\\5985 6146\\6045 6146\\6105 6146\\6148 6146\\6228 6146\\6289 6146\\6429 6146\\6530 6146\\6610 6146\\6691 6146\\6731 6146\\6752 6146\\6812 6146\\6853 6146\\6913 6146\\6973 6146\\7033 6146\\7093 6146\\7153 6146\\7213 6146\\7275 6146\\7355 6146\\7415 6146\\7475 6146\\7535 6146\\7595 6146\\7655 6146\\7837 6146\\7878 6146\\7938 6146\\7998 6146\\8058 6146\\8139 6146\\8199 6146\\8259 6146\\8319 6146\\8379 6146\\8439 6146\\8499 6146\\8559 6146\\8619 6146\\8679 6146\\8739 6146\\8799 6146\\8859 6146\\8943 6146\\8975 6146\\9072 6146\\9164 6146\\9224 6146\\9284 6146\\9365 6146\\9445 6146\\9546 6146\\9586 6146\\9687 6146\\9727 6146\\9827 6146\\9880 6146\\
0 6145\\66 6145\\132 6145\\198 6145\\264 6145\\338 6145\\378 6145\\444 6145\\510 6145\\576 6145\\642 6145\\708 6145\\774 6145\\840 6145\\906 6145\\972 6145\\1038 6145\\1104 6145\\1170 6145\\1236 6145\\1302 6145\\1368 6145\\1434 6145\\1500 6145\\1564 6145\\1604 6145\\1670 6145\\1736 6145\\1802 6145\\1868 6145\\1934 6145\\2000 6145\\2066 6145\\2132 6145\\2207 6145\\2240 6145\\2306 6145\\2372 6145\\2438 6145\\2504 6145\\2570 6145\\2636 6145\\2702 6145\\2768 6145\\2834 6145\\2900 6145\\2966 6145\\3010 6145\\3092 6145\\3133 6145\\3199 6145\\3265 6145\\3331 6145\\3397 6145\\3463 6145\\3529 6145\\3595 6145\\3661 6145\\3727 6145\\3793 6145\\3857 6145\\3900 6145\\3966 6145\\4032 6145\\4098 6145\\4164 6145\\4230 6145\\4296 6145\\4362 6145\\4428 6145\\4494 6145\\4560 6145\\4626 6145\\4692 6145\\4761 6145\\4842 6145\\4908 6145\\4974 6145\\5040 6145\\5106 6145\\5184 6145\\5250 6145\\5316 6145\\5382 6145\\5465 6145\\5531 6145\\5597 6145\\5663 6145\\5725 6145\\5766 6145\\5832 6145\\5898 6145\\5964 6145\\6030 6145\\6096 6145\\6148 6145\\6228 6145\\6294 6145\\6369 6145\\6429 6145\\6495 6145\\6561 6145\\6627 6145\\6693 6145\\6751 6145\\6832 6145\\6913 6145\\6979 6145\\7045 6145\\7111 6145\\7177 6145\\7243 6145\\7309 6145\\7375 6145\\7441 6145\\7507 6145\\7573 6145\\7616 6145\\7697 6145\\7763 6145\\7829 6145\\7895 6145\\7961 6145\\8027 6145\\8093 6145\\8179 6145\\8219 6145\\8300 6145\\8360 6145\\8489 6145\\8555 6145\\8621 6145\\8687 6145\\8722 6145\\8762 6145\\8828 6145\\8863 6145\\8903 6145\\8969 6145\\9035 6145\\9101 6145\\9167 6145\\9233 6145\\9299 6145\\9365 6145\\9431 6145\\9497 6145\\9563 6145\\9629 6145\\9695 6145\\9727 6145\\9787 6145\\9853 6145\\9919 6145\\9948 6145\\
45 6144\\111 6144\\177 6144\\243 6144\\309 6144\\375 6144\\441 6144\\507 6144\\580 6144\\620 6144\\686 6144\\752 6144\\818 6144\\884 6144\\950 6144\\1016 6144\\1082 6144\\1148 6144\\1214 6144\\1280 6144\\1346 6144\\1412 6144\\1484 6144\\1524 6144\\1590 6144\\1656 6144\\1722 6144\\1805 6144\\1866 6144\\1932 6144\\2047 6144\\2087 6144\\2127 6144\\2193 6144\\2259 6144\\2325 6144\\2391 6144\\2457 6144\\2523 6144\\2589 6144\\2655 6144\\2721 6144\\2787 6144\\2853 6144\\2919 6144\\2985 6144\\3051 6144\\3132 6144\\3199 6144\\3265 6144\\3331 6144\\3397 6144\\3463 6144\\3529 6144\\3595 6144\\3661 6144\\3727 6144\\3793 6144\\3859 6144\\3925 6144\\3991 6144\\4057 6144\\4123 6144\\4189 6144\\4255 6144\\4321 6144\\4387 6144\\4460 6144\\4520 6144\\4586 6144\\4652 6144\\4718 6144\\4801 6144\\5002 6144\\5068 6144\\5134 6144\\5200 6144\\5266 6144\\5332 6144\\5398 6144\\5464 6144\\5530 6144\\5625 6144\\5674 6144\\5740 6144\\5806 6144\\5872 6144\\5938 6144\\6004 6144\\6070 6144\\6136 6144\\6202 6144\\6268 6144\\6334 6144\\6400 6144\\6466 6144\\6532 6144\\6590 6144\\6650 6144\\6752 6144\\6818 6144\\6884 6144\\6950 6144\\7016 6144\\7082 6144\\7148 6144\\7214 6144\\7280 6144\\7346 6144\\7412 6144\\7496 6144\\7556 6144\\7622 6144\\7688 6144\\7754 6144\\7817 6144\\7890 6144\\8010 6144\\8059 6144\\8125 6144\\8191 6144\\8257 6144\\8323 6144\\8389 6144\\8455 6144\\8521 6144\\8621 6144\\8682 6144\\8748 6144\\8814 6144\\8880 6144\\8946 6144\\9012 6144\\9078 6144\\9144 6144\\9210 6144\\9276 6144\\9342 6144\\9408 6144\\9474 6144\\9540 6144\\9606 6144\\9672 6144\\9738 6144\\9804 6144\\9870 6144\\9928 6144\\
10 6143\\76 6143\\142 6143\\208 6143\\274 6143\\366 6143\\419 6143\\485 6143\\527 6143\\620 6143\\686 6143\\752 6143\\818 6143\\884 6143\\950 6143\\1022 6143\\1142 6143\\1243 6143\\1309 6143\\1375 6143\\1441 6143\\1507 6143\\1573 6143\\1639 6143\\1705 6143\\1771 6143\\1837 6143\\1903 6143\\2027 6143\\2107 6143\\2215 6143\\2268 6143\\2334 6143\\2400 6143\\2466 6143\\2532 6143\\2598 6143\\2664 6143\\2730 6143\\2796 6143\\2862 6143\\2928 6143\\2994 6143\\3072 6143\\3133 6143\\3199 6143\\3265 6143\\3331 6143\\3397 6143\\3463 6143\\3529 6143\\3595 6143\\3661 6143\\3727 6143\\3793 6143\\3859 6143\\3925 6143\\3991 6143\\4057 6143\\4123 6143\\4189 6143\\4255 6143\\4321 6143\\4387 6143\\4453 6143\\4540 6143\\4560 6143\\4626 6143\\4701 6143\\4773 6143\\4839 6143\\4905 6143\\4971 6143\\5037 6143\\5103 6143\\5169 6143\\5235 6143\\5301 6143\\5367 6143\\5433 6143\\5499 6143\\5585 6143\\5645 6143\\5711 6143\\5777 6143\\5843 6143\\5909 6143\\5975 6143\\6041 6143\\6107 6143\\6173 6143\\6239 6143\\6305 6143\\6371 6143\\6437 6143\\6503 6143\\6569 6143\\6635 6143\\6701 6143\\6752 6143\\6818 6143\\6884 6143\\6950 6143\\7016 6143\\7082 6143\\7134 6143\\7174 6143\\7240 6143\\7306 6143\\7372 6143\\7438 6143\\7504 6143\\7570 6143\\7616 6143\\7682 6143\\7748 6143\\7814 6143\\7880 6143\\7946 6143\\8012 6143\\8078 6143\\8144 6143\\8210 6143\\8276 6143\\8342 6143\\8408 6143\\8474 6143\\8540 6143\\8606 6143\\8672 6143\\8738 6143\\8804 6143\\8870 6143\\8936 6143\\9002 6143\\9068 6143\\9134 6143\\9200 6143\\9266 6143\\9332 6143\\9398 6143\\9464 6143\\9530 6143\\9596 6143\\9662 6143\\9728 6143\\9794 6143\\9860 6143\\9936 6143\\
17 6142\\83 6142\\149 6142\\197 6142\\238 6142\\298 6142\\364 6142\\430 6142\\496 6142\\562 6142\\628 6142\\694 6142\\760 6142\\826 6142\\901 6142\\961 6142\\1027 6142\\1093 6142\\1159 6142\\1225 6142\\1291 6142\\1357 6142\\1423 6142\\1489 6142\\1555 6142\\1621 6142\\1687 6142\\1753 6142\\1797 6142\\1854 6142\\1920 6142\\1946 6142\\2007 6142\\2073 6142\\2139 6142\\2207 6142\\2260 6142\\2388 6142\\2457 6142\\2523 6142\\2589 6142\\2655 6142\\2721 6142\\2770 6142\\2810 6142\\2876 6142\\2942 6142\\2991 6142\\3052 6142\\3118 6142\\3133 6142\\3199 6142\\3265 6142\\3354 6142\\3374 6142\\3440 6142\\3506 6142\\3572 6142\\3638 6142\\3704 6142\\3770 6142\\3836 6142\\3902 6142\\3968 6142\\4034 6142\\4100 6142\\4166 6142\\4232 6142\\4298 6142\\4364 6142\\4430 6142\\4496 6142\\4562 6142\\4628 6142\\4694 6142\\4760 6142\\4826 6142\\4892 6142\\4958 6142\\5024 6142\\5090 6142\\5156 6142\\5243 6142\\5264 6142\\5330 6142\\5396 6142\\5462 6142\\5528 6142\\5585 6142\\5617 6142\\5683 6142\\5749 6142\\5815 6142\\5881 6142\\5947 6142\\6013 6142\\6079 6142\\6128 6142\\6168 6142\\6234 6142\\6300 6142\\6329 6142\\6409 6142\\6475 6142\\6541 6142\\6607 6142\\6673 6142\\6739 6142\\6752 6142\\6865 6142\\6931 6142\\7013 6142\\7054 6142\\7120 6142\\7214 6142\\7255 6142\\7321 6142\\7387 6142\\7453 6142\\7519 6142\\7585 6142\\7651 6142\\7717 6142\\7783 6142\\7849 6142\\7915 6142\\7981 6142\\8047 6142\\8113 6142\\8179 6142\\8245 6142\\8311 6142\\8377 6142\\8443 6142\\8509 6142\\8575 6142\\8641 6142\\8707 6142\\8773 6142\\8839 6142\\8905 6142\\8971 6142\\9037 6142\\9103 6142\\9169 6142\\9235 6142\\9301 6142\\9367 6142\\9433 6142\\9499 6142\\9565 6142\\9631 6142\\9697 6142\\9763 6142\\9829 6142\\9895 6142\\9928 6142\\
0 6141\\66 6141\\132 6141\\198 6141\\270 6141\\286 6141\\352 6141\\418 6141\\484 6141\\550 6141\\616 6141\\682 6141\\748 6141\\814 6141\\880 6141\\946 6141\\1012 6141\\1078 6141\\1144 6141\\1243 6141\\1315 6141\\1381 6141\\1447 6141\\1513 6141\\1579 6141\\1645 6141\\1711 6141\\1777 6141\\1843 6141\\1909 6141\\1975 6141\\2041 6141\\2107 6141\\2173 6141\\2239 6141\\2305 6141\\2371 6141\\2437 6141\\2503 6141\\2569 6141\\2635 6141\\2701 6141\\2790 6141\\2830 6141\\2896 6141\\2962 6141\\3028 6141\\3094 6141\\3133 6141\\3199 6141\\3265 6141\\3331 6141\\3397 6141\\3463 6141\\3529 6141\\3595 6141\\3661 6141\\3727 6141\\3793 6141\\3859 6141\\3925 6141\\3991 6141\\4057 6141\\4123 6141\\4178 6141\\4198 6141\\4264 6141\\4330 6141\\4396 6141\\4462 6141\\4528 6141\\4594 6141\\4660 6141\\4726 6141\\4792 6141\\4858 6141\\4924 6141\\4990 6141\\5056 6141\\5122 6141\\5188 6141\\5254 6141\\5320 6141\\5386 6141\\5452 6141\\5518 6141\\5584 6141\\5625 6141\\5686 6141\\5752 6141\\5818 6141\\5884 6141\\5950 6141\\6016 6141\\6088 6141\\6148 6141\\6214 6141\\6280 6141\\6346 6141\\6412 6141\\6449 6141\\6502 6141\\6568 6141\\6634 6141\\6700 6141\\6752 6141\\6818 6141\\6884 6141\\6950 6141\\7016 6141\\7082 6141\\7146 6141\\7226 6141\\7292 6141\\7358 6141\\7424 6141\\7490 6141\\7556 6141\\7622 6141\\7677 6141\\7717 6141\\7783 6141\\7849 6141\\7915 6141\\7981 6141\\8047 6141\\8113 6141\\8179 6141\\8245 6141\\8311 6141\\8377 6141\\8443 6141\\8472 6141\\8521 6141\\8587 6141\\8653 6141\\8682 6141\\8722 6141\\8788 6141\\8854 6141\\8920 6141\\8955 6141\\8995 6141\\9061 6141\\9127 6141\\9193 6141\\9259 6141\\9305 6141\\9357 6141\\9423 6141\\9489 6141\\9555 6141\\9621 6141\\9687 6141\\9753 6141\\9819 6141\\9847 6141\\9888 6141\\9948 6141\\
10 6140\\76 6140\\142 6140\\208 6140\\274 6140\\340 6140\\406 6140\\472 6140\\538 6140\\604 6140\\700 6140\\720 6140\\786 6140\\852 6140\\918 6140\\984 6140\\1050 6140\\1116 6140\\1182 6140\\1283 6140\\1383 6140\\1423 6140\\1489 6140\\1555 6140\\1621 6140\\1687 6140\\1753 6140\\1819 6140\\1885 6140\\1951 6140\\2017 6140\\2083 6140\\2149 6140\\2215 6140\\2281 6140\\2347 6140\\2413 6140\\2479 6140\\2545 6140\\2611 6140\\2677 6140\\2743 6140\\2809 6140\\2875 6140\\2941 6140\\3007 6140\\3073 6140\\3133 6140\\3213 6140\\3314 6140\\3380 6140\\3446 6140\\3512 6140\\3578 6140\\3644 6140\\3710 6140\\3776 6140\\3877 6140\\3917 6140\\3983 6140\\4049 6140\\4115 6140\\4181 6140\\4247 6140\\4319 6140\\4440 6140\\4506 6140\\4572 6140\\4638 6140\\4704 6140\\4770 6140\\4836 6140\\4902 6140\\4968 6140\\5034 6140\\5100 6140\\5166 6140\\5232 6140\\5298 6140\\5364 6140\\5430 6140\\5496 6140\\5585 6140\\5666 6140\\5732 6140\\5798 6140\\5864 6140\\5930 6140\\5996 6140\\6062 6140\\6128 6140\\6194 6140\\6260 6140\\6326 6140\\6392 6140\\6458 6140\\6524 6140\\6590 6140\\6656 6140\\6722 6140\\6752 6140\\6818 6140\\6884 6140\\6950 6140\\7016 6140\\7082 6140\\7148 6140\\7214 6140\\7280 6140\\7346 6140\\7412 6140\\7496 6140\\7516 6140\\7582 6140\\7648 6140\\7714 6140\\7780 6140\\7846 6140\\7912 6140\\8018 6140\\8030 6140\\8096 6140\\8162 6140\\8228 6140\\8300 6140\\8340 6140\\8406 6140\\8472 6140\\8538 6140\\8601 6140\\8662 6140\\8728 6140\\8794 6140\\8860 6140\\8926 6140\\8992 6140\\9058 6140\\9124 6140\\9190 6140\\9256 6140\\9322 6140\\9388 6140\\9454 6140\\9520 6140\\9586 6140\\9652 6140\\9718 6140\\9784 6140\\9850 6140\\9928 6140\\
57 6139\\123 6139\\189 6139\\255 6139\\318 6139\\366 6139\\432 6139\\498 6139\\564 6139\\630 6139\\696 6139\\762 6139\\820 6139\\873 6139\\939 6139\\1005 6139\\1071 6139\\1137 6139\\1203 6139\\1269 6139\\1335 6139\\1401 6139\\1467 6139\\1564 6139\\1604 6139\\1670 6139\\1725 6139\\1773 6139\\1839 6139\\1905 6139\\1971 6139\\2037 6139\\2127 6139\\2175 6139\\2268 6139\\2308 6139\\2374 6139\\2449 6139\\2549 6139\\2615 6139\\2690 6139\\2770 6139\\2836 6139\\2911 6139\\2951 6139\\3017 6139\\3083 6139\\3133 6139\\3199 6139\\3265 6139\\3331 6139\\3397 6139\\3463 6139\\3529 6139\\3595 6139\\3661 6139\\3727 6139\\3793 6139\\3859 6139\\3925 6139\\3991 6139\\4057 6139\\4123 6139\\4218 6139\\4279 6139\\4345 6139\\4411 6139\\4477 6139\\4543 6139\\4609 6139\\4675 6139\\4741 6139\\4807 6139\\4873 6139\\4939 6139\\5005 6139\\5071 6139\\5137 6139\\5203 6139\\5269 6139\\5335 6139\\5401 6139\\5467 6139\\5533 6139\\5599 6139\\5665 6139\\5731 6139\\5806 6139\\5847 6139\\5947 6139\\5995 6139\\6047 6139\\6108 6139\\6174 6139\\6240 6139\\6306 6139\\6372 6139\\6438 6139\\6504 6139\\6570 6139\\6636 6139\\6702 6139\\6752 6139\\6818 6139\\6884 6139\\6950 6139\\7016 6139\\7082 6139\\7148 6139\\7214 6139\\7280 6139\\7346 6139\\7412 6139\\7478 6139\\7544 6139\\7610 6139\\7697 6139\\7757 6139\\7878 6139\\7918 6139\\8007 6139\\8047 6139\\8087 6139\\8153 6139\\8219 6139\\8285 6139\\8351 6139\\8417 6139\\8483 6139\\8581 6139\\8642 6139\\8708 6139\\8774 6139\\8840 6139\\8906 6139\\8972 6139\\9038 6139\\9104 6139\\9170 6139\\9236 6139\\9302 6139\\9365 6139\\9405 6139\\9471 6139\\9537 6139\\9603 6139\\9669 6139\\9735 6139\\9801 6139\\9867 6139\\9948 6139\\
20 6138\\117 6138\\149 6138\\215 6138\\281 6138\\347 6138\\413 6138\\479 6138\\545 6138\\611 6138\\677 6138\\743 6138\\809 6138\\875 6138\\941 6138\\1042 6138\\1102 6138\\1170 6138\\1235 6138\\1301 6138\\1343 6138\\1383 6138\\1449 6138\\1536 6138\\1584 6138\\1650 6138\\1716 6138\\1782 6138\\1848 6138\\1914 6138\\1980 6138\\2046 6138\\2112 6138\\2178 6138\\2244 6138\\2328 6138\\2360 6138\\2426 6138\\2492 6138\\2558 6138\\2624 6138\\2690 6138\\2756 6138\\2810 6138\\2843 6138\\2909 6138\\2975 6138\\3041 6138\\3107 6138\\3133 6138\\3199 6138\\3265 6138\\3331 6138\\3397 6138\\3463 6138\\3529 6138\\3595 6138\\3661 6138\\3727 6138\\3793 6138\\3877 6138\\3985 6138\\4051 6138\\4118 6138\\4170 6138\\4236 6138\\4331 6138\\4379 6138\\4427 6138\\4492 6138\\4558 6138\\4624 6138\\4690 6138\\4756 6138\\4854 6138\\4894 6138\\4960 6138\\5026 6138\\5092 6138\\5158 6138\\5224 6138\\5284 6138\\5336 6138\\5404 6138\\5465 6138\\5505 6138\\5617 6138\\5683 6138\\5749 6138\\5815 6138\\5881 6138\\5947 6138\\6013 6138\\6079 6138\\6145 6138\\6211 6138\\6277 6138\\6343 6138\\6409 6138\\6475 6138\\6541 6138\\6607 6138\\6673 6138\\6751 6138\\6818 6138\\6884 6138\\6950 6138\\7025 6138\\7174 6138\\7214 6138\\7242 6138\\7308 6138\\7374 6138\\7427 6138\\7493 6138\\7559 6138\\7625 6138\\7691 6138\\7777 6138\\7797 6138\\7863 6138\\7929 6138\\7995 6138\\8046 6138\\8111 6138\\8179 6138\\8245 6138\\8311 6138\\8377 6138\\8443 6138\\8509 6138\\8575 6138\\8649 6138\\8682 6138\\8748 6138\\8814 6138\\8883 6138\\8955 6138\\9023 6138\\9084 6138\\9124 6138\\9204 6138\\9244 6138\\9310 6138\\9365 6138\\9413 6138\\9479 6138\\9545 6138\\9611 6138\\9677 6138\\9727 6138\\9767 6138\\9827 6138\\9893 6138\\9948 6138\\
10 6137\\76 6137\\142 6137\\208 6137\\274 6137\\340 6137\\406 6137\\472 6137\\538 6137\\607 6137\\660 6137\\726 6137\\821 6137\\849 6137\\915 6137\\1022 6137\\1062 6137\\1128 6137\\1194 6137\\1260 6137\\1326 6137\\1392 6137\\1484 6137\\1556 6137\\1693 6137\\1759 6137\\1826 6137\\1998 6137\\2087 6137\\2167 6137\\2233 6137\\2299 6137\\2365 6137\\2431 6137\\2497 6137\\2563 6137\\2629 6137\\2690 6137\\2710 6137\\2776 6137\\2842 6137\\2908 6137\\2974 6137\\3040 6137\\3106 6137\\3133 6137\\3199 6137\\3265 6137\\3354 6137\\3434 6137\\3500 6137\\3566 6137\\3632 6137\\3698 6137\\3764 6137\\3830 6137\\3896 6137\\3957 6137\\4066 6137\\4132 6137\\4198 6137\\4264 6137\\4330 6137\\4396 6137\\4462 6137\\4560 6137\\4588 6137\\4654 6137\\4721 6137\\4761 6137\\4801 6137\\4870 6137\\4936 6137\\5002 6137\\5068 6137\\5134 6137\\5223 6137\\5264 6137\\5324 6137\\5390 6137\\5456 6137\\5505 6137\\5565 6137\\5631 6137\\5697 6137\\5763 6137\\5829 6137\\5895 6137\\5961 6137\\6027 6137\\6093 6137\\6188 6137\\6228 6137\\6294 6137\\6360 6137\\6426 6137\\6492 6137\\6558 6137\\6624 6137\\6690 6137\\6751 6137\\6818 6137\\6884 6137\\6933 6137\\7001 6137\\7067 6137\\7133 6137\\7199 6137\\7265 6137\\7331 6137\\7397 6137\\7463 6137\\7529 6137\\7595 6137\\7661 6137\\7727 6137\\7793 6137\\7859 6137\\7958 6137\\8099 6137\\8165 6137\\8231 6137\\8297 6137\\8363 6137\\8420 6137\\8481 6137\\8569 6137\\8635 6137\\8682 6137\\8722 6137\\8788 6137\\8854 6137\\8920 6137\\8986 6137\\9023 6137\\9104 6137\\9170 6137\\9236 6137\\9302 6137\\9368 6137\\9434 6137\\9500 6137\\9566 6137\\9586 6137\\9667 6137\\9687 6137\\9753 6137\\9819 6137\\9885 6137\\9928 6137\\
0 6136\\66 6136\\132 6136\\198 6136\\264 6136\\338 6136\\358 6136\\424 6136\\490 6136\\556 6136\\622 6136\\688 6136\\754 6136\\820 6136\\886 6136\\1001 6136\\1034 6136\\1100 6136\\1166 6136\\1232 6136\\1298 6136\\1403 6136\\1524 6136\\1590 6136\\1656 6136\\1722 6136\\1788 6136\\1854 6136\\1926 6136\\2055 6136\\2121 6136\\2187 6136\\2253 6136\\2319 6136\\2385 6136\\2451 6136\\2517 6136\\2583 6136\\2649 6136\\2715 6136\\2781 6136\\2847 6136\\2913 6136\\2979 6136\\3045 6136\\3111 6136\\3133 6136\\3199 6136\\3265 6136\\3354 6136\\3420 6136\\3486 6136\\3552 6136\\3615 6136\\3664 6136\\3730 6136\\3796 6136\\3862 6136\\3928 6136\\3994 6136\\4060 6136\\4126 6136\\4192 6136\\4258 6136\\4324 6136\\4390 6136\\4456 6136\\4522 6136\\4588 6136\\4654 6136\\4720 6136\\4801 6136\\4867 6136\\4933 6136\\4999 6136\\5065 6136\\5131 6136\\5197 6136\\5263 6136\\5329 6136\\5395 6136\\5461 6136\\5527 6136\\5593 6136\\5659 6136\\5725 6136\\5791 6136\\5857 6136\\5923 6136\\5989 6136\\6055 6136\\6121 6136\\6187 6136\\6253 6136\\6319 6136\\6385 6136\\6451 6136\\6517 6136\\6583 6136\\6649 6136\\6715 6136\\6752 6136\\6818 6136\\6884 6136\\6973 6136\\6993 6136\\7059 6136\\7125 6136\\7191 6136\\7275 6136\\7307 6136\\7373 6136\\7439 6136\\7505 6136\\7571 6136\\7637 6136\\7703 6136\\7769 6136\\7835 6136\\7938 6136\\7958 6136\\8024 6136\\8090 6136\\8156 6136\\8222 6136\\8288 6136\\8354 6136\\8420 6136\\8486 6136\\8552 6136\\8618 6136\\8684 6136\\8750 6136\\8816 6136\\8882 6136\\8948 6136\\9014 6136\\9080 6136\\9146 6136\\9212 6136\\9278 6136\\9344 6136\\9410 6136\\9476 6136\\9542 6136\\9608 6136\\9674 6136\\9727 6136\\9807 6136\\9873 6136\\9948 6136\\
12 6135\\57 6135\\123 6135\\189 6135\\255 6135\\321 6135\\387 6135\\453 6135\\519 6135\\585 6135\\640 6135\\672 6135\\752 6135\\800 6135\\866 6135\\941 6135\\981 6135\\1047 6135\\1082 6135\\1243 6135\\1331 6135\\1424 6135\\1490 6135\\1556 6135\\1622 6135\\1688 6135\\1754 6135\\1820 6135\\1886 6135\\1952 6135\\2018 6135\\2084 6135\\2150 6135\\2207 6135\\2256 6135\\2322 6135\\2388 6135\\2454 6135\\2520 6135\\2610 6135\\2670 6135\\2818 6135\\2971 6135\\3037 6135\\3103 6135\\3133 6135\\3199 6135\\3265 6135\\3334 6135\\3400 6135\\3466 6135\\3515 6135\\3603 6135\\3784 6135\\3857 6135\\3929 6135\\3977 6135\\4043 6135\\4109 6135\\4175 6135\\4241 6135\\4307 6135\\4399 6135\\4440 6135\\4520 6135\\4580 6135\\4681 6135\\4789 6135\\4854 6135\\4942 6135\\5014 6135\\5080 6135\\5146 6135\\5243 6135\\5465 6135\\5531 6135\\5597 6135\\5663 6135\\5766 6135\\5826 6135\\5892 6135\\5958 6135\\6024 6135\\6090 6135\\6156 6135\\6248 6135\\6309 6135\\6375 6135\\6441 6135\\6507 6135\\6573 6135\\6639 6135\\6705 6135\\6751 6135\\6800 6135\\6893 6135\\6959 6135\\7025 6135\\7094 6135\\7142 6135\\7234 6135\\7300 6135\\7366 6135\\7415 6135\\7496 6135\\7576 6135\\7604 6135\\7670 6135\\7736 6135\\7802 6135\\7898 6135\\7938 6135\\8004 6135\\8070 6135\\8136 6135\\8202 6135\\8268 6135\\8334 6135\\8420 6135\\8481 6135\\8547 6135\\8613 6135\\8679 6135\\8762 6135\\8822 6135\\8875 6135\\8941 6135\\9007 6135\\9073 6135\\9139 6135\\9205 6135\\9271 6135\\9305 6135\\9385 6135\\9526 6135\\9592 6135\\9658 6135\\9724 6135\\9790 6135\\9856 6135\\9928 6135\\
49 6134\\157 6134\\223 6134\\258 6134\\318 6134\\384 6134\\450 6134\\516 6134\\582 6134\\648 6134\\752 6134\\780 6134\\846 6134\\941 6134\\1010 6134\\1094 6134\\1154 6134\\1243 6134\\1343 6134\\1409 6134\\1516 6134\\1584 6134\\1717 6134\\1783 6134\\1849 6134\\1915 6134\\1981 6134\\2087 6134\\2127 6134\\2193 6134\\2259 6134\\2328 6134\\2469 6134\\2549 6134\\2610 6134\\2676 6134\\2742 6134\\2808 6134\\2874 6134\\2940 6134\\3006 6134\\3072 6134\\3132 6134\\3199 6134\\3265 6134\\3314 6134\\3354 6134\\3475 6134\\3595 6134\\3676 6134\\3736 6134\\3802 6134\\3877 6134\\3957 6134\\4023 6134\\4089 6134\\4155 6134\\4221 6134\\4339 6134\\4411 6134\\4477 6134\\4540 6134\\4612 6134\\4678 6134\\4744 6134\\4810 6134\\4902 6134\\4942 6134\\5008 6134\\5074 6134\\5140 6134\\5206 6134\\5304 6134\\5404 6134\\5513 6134\\5686 6134\\5786 6134\\5826 6134\\5907 6134\\5973 6134\\6067 6134\\6148 6134\\6309 6134\\6389 6134\\6470 6134\\6550 6134\\6616 6134\\6682 6134\\6751 6134\\6818 6134\\6884 6134\\6953 6134\\7054 6134\\7134 6134\\7200 6134\\7266 6134\\7332 6134\\7398 6134\\7464 6134\\7530 6134\\7596 6134\\7677 6134\\7777 6134\\7843 6134\\7909 6134\\7975 6134\\8059 6134\\8179 6134\\8239 6134\\8392 6134\\8481 6134\\8573 6134\\8639 6134\\8702 6134\\8842 6134\\8908 6134\\8974 6134\\9040 6134\\9144 6134\\9236 6134\\9317 6134\\9425 6134\\9491 6134\\9566 6134\\9827 6134\\9920 6134\\
10 6133\\76 6133\\142 6133\\197 6133\\398 6133\\464 6133\\499 6133\\620 6133\\686 6133\\752 6133\\818 6133\\884 6133\\950 6133\\1022 6133\\1062 6133\\1128 6133\\1194 6133\\1260 6133\\1303 6133\\1395 6133\\1516 6133\\1582 6133\\1648 6133\\1705 6133\\1765 6133\\1831 6133\\1926 6133\\2055 6133\\2167 6133\\2248 6133\\2376 6133\\2442 6133\\2489 6133\\2569 6133\\2710 6133\\2750 6133\\2871 6133\\2951 6133\\3012 6133\\3092 6133\\3133 6133\\3199 6133\\3254 6133\\3487 6133\\3553 6133\\3656 6133\\3756 6133\\3905 6133\\3971 6133\\4037 6133\\4103 6133\\4178 6133\\4291 6133\\4452 6133\\4520 6133\\4580 6133\\4681 6133\\4747 6133\\4813 6133\\4882 6133\\4982 6133\\5095 6133\\5264 6133\\5330 6133\\5396 6133\\5445 6133\\5585 6133\\5666 6133\\5746 6133\\5826 6133\\5907 6133\\6019 6133\\6085 6133\\6168 6133\\6309 6133\\6375 6133\\6441 6133\\6507 6133\\6573 6133\\6639 6133\\6705 6133\\6751 6133\\6812 6133\\6853 6133\\6893 6133\\6959 6133\\7025 6133\\7094 6133\\7146 6133\\7212 6133\\7278 6133\\7335 6133\\7415 6133\\7481 6133\\7547 6133\\7656 6133\\7717 6133\\7783 6133\\7837 6133\\7918 6133\\8038 6133\\8104 6133\\8170 6133\\8236 6133\\8302 6133\\8380 6133\\8432 6133\\8498 6133\\8564 6133\\8630 6133\\8696 6133\\8802 6133\\8883 6133\\8955 6133\\9043 6133\\9084 6133\\9150 6133\\9216 6133\\9265 6133\\9325 6133\\9405 6133\\9471 6133\\9526 6133\\9586 6133\\9747 6133\\9813 6133\\9879 6133\\9908 6133\\
};
\addlegendentry{\begin{tabular}{@{}l@{}}Samples\\\textit{μ} = 6142.13, \textit{σ} = 8.16\end{tabular}}
\end{axis}
\end{tikzpicture}
\end{document}
